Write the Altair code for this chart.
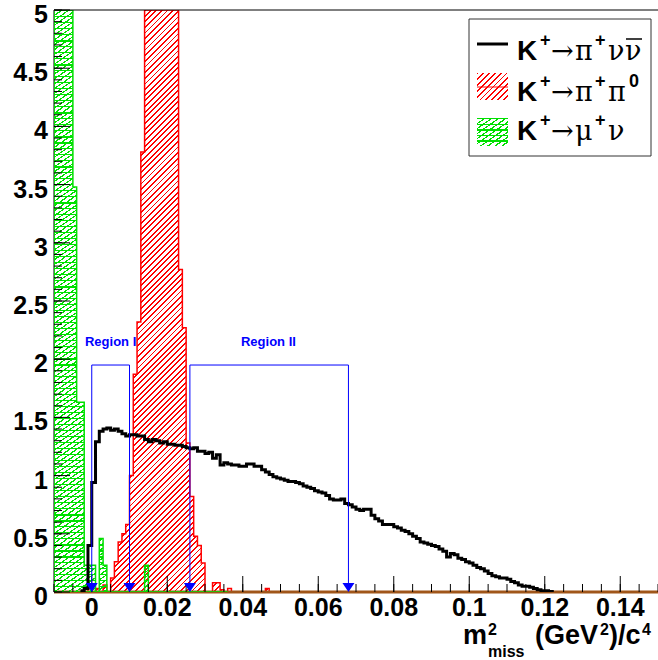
import math
import altair as alt
import pandas as pd

# ---------------- data ----------------
BIN = 0.001
XMIN, XMAX = -0.01, 0.15
YMAX = 5.0

# K+ -> pi+ nu nubar (black step line), bins of 0.001 starting at -0.003
black_start = -0.003
black_vals = [0.01, 0.03, 0.40,
              0.94, 1.29, 1.38, 1.40, 1.41, 1.39, 1.40, 1.38, 1.36, 1.34,
              1.35, 1.35, 1.34, 1.34, 1.31, 1.29, 1.31, 1.30, 1.28, 1.29,
              1.27, 1.27, 1.26, 1.26, 1.25, 1.24, 1.23, 1.24, 1.21, 1.21,
              1.19, 1.20, 1.15, 1.18, 1.09, 1.11, 1.10, 1.09, 1.09, 1.08,
              1.08, 1.10, 1.10, 1.08, 1.08, 1.05, 1.03, 1.01, 0.99, 0.98,
              0.97, 0.96, 0.95, 0.95, 0.94, 0.93, 0.91, 0.90, 0.89, 0.87,
              0.86, 0.85, 0.83, 0.80, 0.79, 0.79, 0.80, 0.76, 0.75, 0.73,
              0.71, 0.70, 0.71, 0.71, 0.66, 0.63, 0.61, 0.58, 0.58, 0.58,
              0.56, 0.55, 0.53, 0.52, 0.50, 0.48, 0.46, 0.43, 0.42, 0.41,
              0.40, 0.39, 0.37, 0.35, 0.30, 0.33, 0.32, 0.29, 0.28, 0.26,
              0.25, 0.23, 0.21, 0.20, 0.18, 0.16, 0.14, 0.13, 0.12, 0.12,
              0.11, 0.09, 0.08, 0.06, 0.05, 0.05, 0.04, 0.03, 0.02, 0.01,
              0.01, 0.005]

# K+ -> pi+ pi0 (red hatched), bins starting at -0.001 (values > 5 are off scale)
red_start = -0.001
red_vals = [0.03, 0.0, 0.03, 0.0, 0.06, 0.0, 0.12, 0.26, 0.43, 0.50,
            0.58, 1.00, 1.87, 2.32, 3.78,
            6.5, 9.0, 11.5, 13.0, 13.5, 12.0, 10.0, 8.0, 5.5,
            2.77, 2.27, 1.28, 0.82, 0.48, 0.40, 0.25, 0.0, 0.0, 0.08,
            0.08, 0.02, 0.0, 0.03, 0.0, 0.0, 0.0, 0.0, 0.0, 0.0,
            0.0, 0.0, 0.0, 0.03]

# K+ -> mu+ nu (green hatched), bins starting at -0.010 (first bins off scale)
green_start = -0.010
green_vals = [60.0, 45.0, 30.0, 18.0, 9.0, 3.48, 1.63, 1.63, 0.23, 0.23,
              0.23, 0.0, 0.46, 0.23, 0.0, 0.0, 0.0, 0.0, 0.0, 0.0,
              0.0, 0.0, 0.0, 0.0, 0.23, 0.0, 0.0, 0.0, 0.0, 0.0,
              0.0, 0.0, 0.0, 0.0, 0.0, 0.0, 0.0, 0.0, 0.0, 0.0,
              0.0, 0.0, 0.0, 0.0, 0.0, 0.0]

region_names = ["Region I", "Region II"]
region_lo = [0.0, 0.026]
region_hi = [0.010, 0.068]
region_label_x = [0.005, 0.0468]
region_line_y = 1.95
region_text_y = 2.11

x_tick_labels = [0, 0.02, 0.04, 0.06, 0.08, 0.1, 0.12, 0.14]
y_tick_labels = [0, 0.5, 1, 1.5, 2, 2.5, 3, 3.5, 4, 4.5, 5]
x_minor_ticks = [round(-0.01 + 0.005 * i, 4) for i in range(33)]
y_minor_ticks = [round(0.1 * i, 2) for i in range(51)]

# ---------------- layout / style ----------------
W, H = 604, 582
BLUE = "#0000ff"
BROWN = "#a0561a"
RED = "#ff0000"
GREEN = "#00e000"
CLEAR = "rgba(255,255,255,0)"
SANS = "Liberation Sans"
GREEK = "DejaVu Serif"
LABEL_SIZE = 25

xscale = alt.Scale(domain=[XMIN, XMAX], nice=False, zero=False)
yscale = alt.Scale(domain=[0, YMAX], nice=False, zero=False)


def X(field):
    return alt.X(field, type="quantitative", scale=xscale, axis=None)


def Y(field):
    return alt.Y(field, type="quantitative", scale=yscale, axis=None)


def step_frame(start, vals):
    xs = [round(start + i * BIN, 6) for i in range(len(vals) + 1)]
    vs = [min(v, YMAX) for v in vals] + [0.0]
    return pd.DataFrame({"x": xs, "v": vs})


def hatch(color, w, h, angle_deg, period, frac=0.33):
    th = math.radians(angle_deg)
    s, c = math.sin(th), math.cos(th)
    D = w * s + h * c
    k = D / (w * w * s * s + h * h * c * c)
    p, q = k * w * s, k * h * c
    n = max(1, int(round(D / period)))
    stops = [alt.GradientStop(color=CLEAR, offset=0)]
    for i in range(n):
        a = i / n
        b = min(1.0, (i + frac) / n)
        stops += [alt.GradientStop(color=CLEAR, offset=a),
                  alt.GradientStop(color=color, offset=a),
                  alt.GradientStop(color=color, offset=b),
                  alt.GradientStop(color=CLEAR, offset=b)]
    return alt.LinearGradient(gradient="linear", stops=stops, x1=0, y1=0, x2=p, y2=q)


def px_w(df):
    return (df["x"].max() - df["x"].min()) / (XMAX - XMIN) * W


def px_h(df):
    return df["v"].max() / YMAX * H


red_df = step_frame(red_start, red_vals)
green_df = step_frame(green_start, green_vals)
black_df = step_frame(black_start, black_vals)

one = pd.DataFrame({"a": [0]})
layers = []

# left axis line
layers.append(
    alt.Chart(one).mark_rule(color="black", strokeWidth=1)
    .encode(x=alt.value(0), y=alt.value(0), y2=alt.value(H))
)

# red hatched histogram
layers.append(
    alt.Chart(red_df).mark_area(interpolate="step-after", clip=True,
                                fill=hatch(RED, px_w(red_df), px_h(red_df), 45, 4.0),
                                stroke=RED, strokeWidth=1.5)
    .encode(x=X("x"), y=Y("v"))
)

# brown zero line
layers.append(
    alt.Chart(pd.DataFrame({"x": [XMIN], "x2": [XMAX], "v": [0.0]}))
    .mark_rule(color=BROWN, strokeWidth=3)
    .encode(x=X("x"), x2="x2:Q", y=Y("v"))
)

# green hatched histogram (horizontal + diagonal hatch)
gw, gh = px_w(green_df), px_h(green_df)
layers.append(
    alt.Chart(green_df).mark_area(interpolate="step-after", clip=True,
                                  fill=hatch(GREEN, gw, gh, 0, 6.0, 0.25))
    .encode(x=X("x"), y=Y("v"))
)
layers.append(
    alt.Chart(green_df).mark_area(interpolate="step-after", clip=True,
                                  fill=hatch(GREEN, gw, gh, 35, 4.0, 0.3),
                                  stroke=GREEN, strokeWidth=1.5)
    .encode(x=X("x"), y=Y("v"))
)

# black step line
layers.append(
    alt.Chart(black_df).mark_line(interpolate="step-after", color="black", strokeWidth=3, clip=True)
    .encode(x=X("x"), y=Y("v"))
)

# inward ticks
for vals, length in [(x_minor_ticks, 8), (x_tick_labels, 16)]:
    layers.append(
        alt.Chart(pd.DataFrame({"t": vals})).mark_rule(color="black", strokeWidth=1)
        .encode(x=X("t"), y=alt.value(H), y2=alt.value(H - length))
    )
for vals, length in [(y_minor_ticks, 8), (y_tick_labels, 16)]:
    layers.append(
        alt.Chart(pd.DataFrame({"t": vals})).mark_rule(color="black", strokeWidth=1)
        .encode(y=Y("t"), x=alt.value(0), x2=alt.value(length))
    )

# tick labels (placed through the scales)
layers.append(
    alt.Chart(pd.DataFrame({"t": x_tick_labels, "s": [str(v) for v in x_tick_labels]}))
    .mark_text(font=SANS, fontWeight="bold", fontSize=LABEL_SIZE, color="black",
               align="center", baseline="alphabetic")
    .encode(x=X("t"), y=alt.value(H + 24), text="s:N")
)
layers.append(
    alt.Chart(pd.DataFrame({"t": y_tick_labels, "s": [str(v) for v in y_tick_labels]}))
    .mark_text(font=SANS, fontWeight="bold", fontSize=LABEL_SIZE, color="black",
               align="right", baseline="middle", dy=5)
    .encode(y=Y("t"), x=alt.value(-6), text="s:N")
)

# region markers
edges = region_lo + region_hi
vdf = pd.DataFrame({"x": edges, "top": [region_line_y] * 4, "bot": [0.05] * 4})
layers.append(
    alt.Chart(vdf).mark_rule(color=BLUE, strokeWidth=1)
    .encode(x=X("x"), y=Y("top"), y2="bot:Q")
)
hdf = pd.DataFrame({"x": region_lo, "x2": region_hi, "v": [region_line_y] * 2})
layers.append(
    alt.Chart(hdf).mark_rule(color=BLUE, strokeWidth=1)
    .encode(x=X("x"), x2="x2:Q", y=Y("v"))
)
adf = pd.DataFrame({"x": edges, "v": [0.0] * 4})
layers.append(
    alt.Chart(adf).mark_point(shape="M-1,-1.5L1,-1.5L0,0Z", filled=True, color=BLUE,
                              size=144, opacity=1, strokeWidth=0)
    .encode(x=X("x"), y=Y("v"))
)
tdf = pd.DataFrame({"x": region_label_x, "v": [region_text_y] * 2, "t": region_names})
layers.append(
    alt.Chart(tdf).mark_text(font=SANS, fontWeight="bold", fontSize=13, color=BLUE,
                             align="center", baseline="alphabetic")
    .encode(x=X("x"), y=Y("v"), text="t:N")
)

# top frame line
layers.append(
    alt.Chart(one).mark_rule(color="black", strokeWidth=1)
    .encode(x=alt.value(0), x2=alt.value(W), y=alt.value(0))
)

# ---------------- legend ----------------
LX0, LX1, LY0, LY1 = 415, 597, 9, 146
layers.append(
    alt.Chart(one).mark_rect(fill="white", stroke="#333333", strokeWidth=1)
    .encode(x=alt.value(LX0), x2=alt.value(LX1), y=alt.value(LY0), y2=alt.value(LY1))
)
layers.append(
    alt.Chart(one).mark_rule(color="black", strokeWidth=3)
    .encode(x=alt.value(423), x2=alt.value(454), y=alt.value(34))
)
layers.append(
    alt.Chart(one).mark_rect(fill=hatch(RED, 31, 27, 45, 4.0))
    .encode(x=alt.value(423), x2=alt.value(454), y=alt.value(63), y2=alt.value(90))
)
layers.append(
    alt.Chart(one).mark_rule(color=RED, strokeWidth=1)
    .encode(x=alt.value(423), x2=alt.value(454), y=alt.value(77))
)
layers.append(
    alt.Chart(one).mark_rect(fill=hatch(GREEN, 31, 28, 0, 6.0, 0.25))
    .encode(x=alt.value(423), x2=alt.value(454), y=alt.value(108), y2=alt.value(136))
)
layers.append(
    alt.Chart(one).mark_rect(fill=hatch(GREEN, 31, 28, 35, 4.0, 0.3))
    .encode(x=alt.value(423), x2=alt.value(454), y=alt.value(108), y2=alt.value(136))
)

legend_sans = pd.DataFrame({
    "t": ["K", "K", "K"],
    "x": [463, 463, 463],
    "y": [50, 91, 130],
})
legend_sup = pd.DataFrame({
    "t": ["+", "+", "+", "+", "0", "+", "+"],
    "x": [486, 541, 486, 541, 575, 486, 541],
    "y": [36, 36, 77, 77, 77, 116, 116],
})
legend_greek = pd.DataFrame({
    "t": ["\u2192", "\u03c0", "\u03bd", "\u03bd",
          "\u2192", "\u03c0", "\u03c0",
          "\u2192", "\u03bc", "\u03bd"],
    "x": [497, 521, 554, 571,
          497, 521, 554,
          497, 521, 554],
    "y": [50, 50, 50, 50,
          91, 91, 91,
          130, 130, 130],
})
layers.append(
    alt.Chart(legend_sans).mark_text(font=SANS, fontWeight="bold", fontSize=28, color="black",
                                     align="left", baseline="alphabetic")
    .encode(x=alt.X("x:Q", scale=None), y=alt.Y("y:Q", scale=None), text="t:N")
)
layers.append(
    alt.Chart(legend_sup).mark_text(font=SANS, fontWeight="bold", fontSize=18, color="black",
                                    align="left", baseline="alphabetic")
    .encode(x=alt.X("x:Q", scale=None), y=alt.Y("y:Q", scale=None), text="t:N")
)
layers.append(
    alt.Chart(legend_greek).mark_text(font=GREEK, fontSize=27, color="black",
                                      align="left", baseline="alphabetic")
    .encode(x=alt.X("x:Q", scale=None), y=alt.Y("y:Q", scale=None), text="t:N")
)
layers.append(
    alt.Chart(one).mark_rule(color="black", strokeWidth=1.5)
    .encode(x=alt.value(572), x2=alt.value(588), y=alt.value(29))
)

# ---------------- x axis title ----------------
title_big = pd.DataFrame({"t": ["m", "(GeV", ")/c"], "x": [409, 481, 555], "y": [634, 634, 634]})
title_small = pd.DataFrame({"t": ["2", "miss", "2", "4"], "x": [434, 434, 546, 588],
                            "y": [625, 647, 625, 625]})
layers.append(
    alt.Chart(title_big).mark_text(font=SANS, fontWeight="bold", fontSize=27, color="black",
                                   align="left", baseline="alphabetic")
    .encode(x=alt.X("x:Q", scale=None), y=alt.Y("y:Q", scale=None), text="t:N")
)
layers.append(
    alt.Chart(title_small).mark_text(font=SANS, fontWeight="bold", fontSize=16, color="black",
                                     align="left", baseline="alphabetic")
    .encode(x=alt.X("x:Q", scale=None), y=alt.Y("y:Q", scale=None), text="t:N")
)

chart = alt.layer(*layers).properties(
    width=W, height=H,
    padding={"left": 54, "top": 10, "right": 0, "bottom": 68},
    autosize=alt.AutoSizeParams(type="none"),
    background="white",
).configure_view(stroke="transparent")

chart.save("out.html", embed_options={"renderer": "svg", "actions": False})
